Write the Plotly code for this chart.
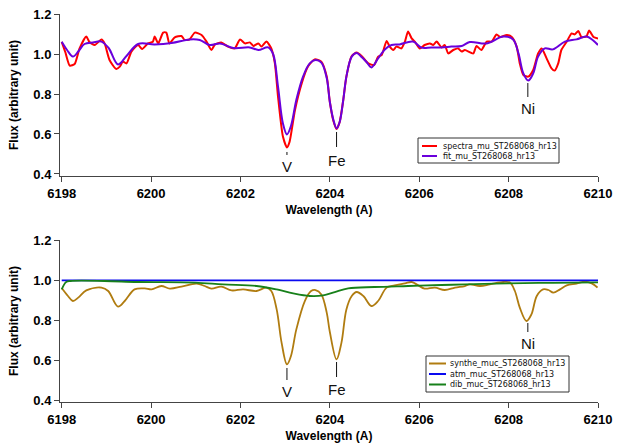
import plotly.graph_objects as go

# ---------------- data ----------------
fit_wl = [6198.00, 6198.12, 6198.25, 6198.38, 6198.51, 6198.70, 6198.89, 6199.05, 6199.26, 6199.45,
          6199.71, 6200.08, 6200.46, 6200.87, 6201.09, 6201.31, 6201.54, 6201.84, 6202.21, 6202.40,
          6202.62, 6202.73, 6202.84, 6202.95, 6203.04, 6203.13, 6203.25, 6203.40, 6203.55, 6203.68,
          6203.81, 6203.93, 6204.00, 6204.08, 6204.15, 6204.22, 6204.30, 6204.37, 6204.49, 6204.60,
          6204.71, 6204.82, 6204.93, 6205.08, 6205.23, 6205.38, 6205.56, 6205.86, 6206.05, 6206.27,
          6206.50, 6206.72, 6206.95, 6207.13, 6207.51, 6207.88, 6208.10, 6208.22, 6208.33, 6208.44,
          6208.55, 6208.66, 6208.81, 6208.99, 6209.26, 6209.52, 6209.74, 6209.88, 6210.00]
fit_flux = [1.061, 1.020, 0.987, 1.015, 1.050, 1.058, 1.062, 1.030, 0.948, 0.990,
            1.050, 1.048, 1.055, 1.073, 1.070, 1.045, 1.053, 1.030, 1.033, 1.020,
            1.033, 1.000, 0.837, 0.653, 0.598, 0.640, 0.770, 0.887, 0.953, 0.970,
            0.957, 0.880, 0.760, 0.670, 0.628, 0.660, 0.770, 0.887, 0.987, 1.005,
            0.985, 0.960, 0.933, 0.978, 1.023, 1.045, 1.048, 1.062, 1.032, 1.033,
            1.033, 1.037, 1.040, 1.060, 1.053, 1.087, 1.073, 1.003, 0.903, 0.867,
            0.903, 0.987, 1.028, 1.023, 1.062, 1.073, 1.087, 1.070, 1.045]

spec_wl = [6198.00, 6198.08, 6198.18, 6198.29, 6198.40, 6198.55, 6198.62, 6198.74, 6198.89, 6198.96,
           6199.07, 6199.22, 6199.30, 6199.37, 6199.45, 6199.56, 6199.71, 6199.80, 6199.93, 6200.04,
           6200.08, 6200.16, 6200.27, 6200.34, 6200.41, 6200.53, 6200.68, 6200.75, 6200.86, 6200.98,
           6201.13, 6201.24, 6201.35, 6201.43, 6201.57, 6201.72, 6201.87, 6201.99, 6202.10, 6202.21,
           6202.29, 6202.40, 6202.47, 6202.58, 6202.69, 6202.77, 6202.84, 6202.95, 6203.04, 6203.10,
           6203.22, 6203.37, 6203.51, 6203.66, 6203.81, 6203.93, 6204.00, 6204.08, 6204.15, 6204.22,
           6204.30, 6204.37, 6204.49, 6204.60, 6204.71, 6204.86, 6204.99, 6205.08, 6205.16, 6205.27,
           6205.34, 6205.42, 6205.49, 6205.60, 6205.68, 6205.75, 6205.83, 6205.90, 6206.01, 6206.12,
           6206.24, 6206.31, 6206.39, 6206.50, 6206.57, 6206.65, 6206.76, 6206.87, 6206.95, 6207.02,
           6207.21, 6207.28, 6207.39, 6207.51, 6207.62, 6207.73, 6207.81, 6207.96, 6208.07, 6208.18,
           6208.25, 6208.33, 6208.44, 6208.55, 6208.66, 6208.74, 6208.85, 6208.96, 6209.03, 6209.11,
           6209.18, 6209.30, 6209.41, 6209.48, 6209.56, 6209.63, 6209.74, 6209.80, 6209.90, 6210.00]
spec_flux = [1.061, 1.010, 0.942, 0.950, 1.028, 1.087, 1.060, 1.045, 1.073, 1.053,
             0.970, 0.925, 0.937, 0.962, 0.953, 1.012, 1.045, 1.025, 1.053, 1.061,
             1.087, 1.053, 1.107, 1.107, 1.053, 1.083, 1.090, 1.070, 1.073, 1.107,
             1.095, 1.062, 1.020, 1.048, 1.057, 1.037, 1.028, 1.073, 1.053, 1.058,
             1.040, 1.053, 1.037, 1.062, 1.028, 0.953, 0.787, 0.587, 0.533, 0.562,
             0.720, 0.853, 0.937, 0.973, 0.962, 0.887, 0.760, 0.665, 0.625, 0.660,
             0.770, 0.887, 0.990, 1.007, 0.990, 0.953, 0.945, 0.987, 0.995, 1.065,
             1.037, 1.020, 1.037, 1.028, 1.062, 1.112, 1.078, 1.062, 1.028, 1.045,
             1.053, 1.045, 1.062, 1.033, 1.045, 1.003, 1.020, 1.028, 1.012, 1.020,
             1.003, 1.040, 1.020, 1.062, 1.062, 1.098, 1.085, 1.095, 1.085, 1.037,
             0.953, 0.895, 0.887, 0.920, 1.003, 1.028, 0.978, 0.928, 0.917, 0.953,
             1.020, 1.062, 1.103, 1.098, 1.115, 1.085, 1.088, 1.117, 1.085, 1.078]

synthe_wl = [6198.00, 6198.14, 6198.25, 6198.37, 6198.55, 6198.89, 6199.04, 6199.26, 6199.41, 6199.63,
             6199.86, 6200.01, 6200.23, 6200.42, 6200.68, 6201.02, 6201.20, 6201.35, 6201.57, 6201.80,
             6202.06, 6202.36, 6202.58, 6202.69, 6202.81, 6202.92, 6203.04, 6203.13, 6203.25, 6203.44,
             6203.58, 6203.68, 6203.81, 6203.93, 6204.00, 6204.15, 6204.26, 6204.37, 6204.49, 6204.60,
             6204.75, 6204.93, 6205.08, 6205.27, 6205.45, 6205.68, 6205.83, 6205.98, 6206.12, 6206.35,
             6206.57, 6206.80, 6207.02, 6207.13, 6207.36, 6207.58, 6207.88, 6208.03, 6208.14, 6208.25,
             6208.40, 6208.51, 6208.63, 6208.77, 6208.89, 6209.00, 6209.15, 6209.30, 6209.52, 6209.71,
             6209.86, 6209.99]
synthe_flux = [0.960, 0.920, 0.895, 0.912, 0.948, 0.962, 0.945, 0.867, 0.895, 0.953,
               0.958, 0.953, 0.970, 0.957, 0.967, 0.982, 0.970, 0.957, 0.967, 0.948,
               0.953, 0.945, 0.962, 0.945, 0.853, 0.687, 0.578, 0.620, 0.753, 0.895,
               0.945, 0.950, 0.928, 0.837, 0.740, 0.603, 0.687, 0.853, 0.920, 0.940,
               0.920, 0.870, 0.895, 0.962, 0.973, 0.983, 0.990, 0.973, 0.957, 0.962,
               0.950, 0.962, 0.970, 0.978, 0.970, 0.978, 0.990, 0.987, 0.945, 0.862,
               0.795, 0.828, 0.920, 0.953, 0.950, 0.937, 0.953, 0.973, 0.982, 0.992,
               0.983, 0.962]

atm_wl = [6198.0, 6201.0, 6204.0, 6207.0, 6210.0]
atm_flux = [0.998, 0.998, 0.998, 0.998, 0.998]

dib_wl = [6198.00, 6198.10, 6198.20, 6198.96, 6199.70, 6200.98, 6201.61, 6202.36, 6202.81, 6203.18,
          6203.55, 6203.85, 6204.11, 6204.41, 6205.00, 6205.75, 6206.50, 6207.02, 6208.00, 6209.00,
          6210.00]
dib_flux = [0.953, 0.990, 0.995, 0.995, 0.990, 0.987, 0.978, 0.970, 0.953, 0.933,
            0.920, 0.923, 0.940, 0.958, 0.965, 0.970, 0.975, 0.978, 0.983, 0.986,
            0.988]

line_labels = ["V", "Fe", "Ni"]
line_wl = [6203.04, 6204.15, 6208.43]

names_top = ["spectra_mu_ST268068_hr13", "fit_mu_ST268068_hr13"]
names_bot = ["synthe_muc_ST268068_hr13", "atm_muc_ST268068_hr13", "dib_muc_ST268068_hr13"]

# ---------------- figure ----------------
C_RED = "#FF0000"
C_PUR = "#6A00DC"
C_BRN = "#B07C10"
C_BLU = "#0A0AF0"
C_GRN = "#17801A"

fig = go.Figure()
fig.add_trace(go.Scatter(x=spec_wl, y=spec_flux, name=names_top[0], mode="lines",
                         line=dict(color=C_RED, width=2, shape="spline", smoothing=0.6),
                         xaxis="x", yaxis="y", showlegend=False))
fig.add_trace(go.Scatter(x=fit_wl, y=fit_flux, name=names_top[1], mode="lines",
                         line=dict(color=C_PUR, width=2, shape="spline", smoothing=1.0),
                         xaxis="x", yaxis="y", showlegend=False))
fig.add_trace(go.Scatter(x=synthe_wl, y=synthe_flux, name=names_bot[0], mode="lines",
                         line=dict(color=C_BRN, width=1.8, shape="spline", smoothing=1.0),
                         xaxis="x2", yaxis="y2", showlegend=False))
fig.add_trace(go.Scatter(x=atm_wl, y=atm_flux, name=names_bot[1], mode="lines",
                         line=dict(color=C_BLU, width=1.8),
                         xaxis="x2", yaxis="y2", showlegend=False))
fig.add_trace(go.Scatter(x=dib_wl, y=dib_flux, name=names_bot[2], mode="lines",
                         line=dict(color=C_GRN, width=1.8, shape="spline", smoothing=1.0),
                         xaxis="x2", yaxis="y2", showlegend=False))

TICKFONT = dict(family="Liberation Sans, Arial, sans-serif", size=13, color="black", weight="bold")
TITLEFONT = dict(family="Liberation Sans, Arial, sans-serif", size=12, color="black", weight="bold")
AXC = "#444444"

def xax(domain_anchor):
    return dict(range=[6197.962, 6210.0], tick0=6198, dtick=2, showline=True, linecolor=AXC,
                linewidth=1, ticks="outside", ticklen=5, tickcolor=AXC, showgrid=False,
                zeroline=False, tickfont=TICKFONT, anchor=domain_anchor, automargin=False,
                title=dict(text="Wavelength (A)", font=TITLEFONT, standoff=6))

def yax(domain, anchor):
    return dict(domain=domain, range=[0.39, 1.2], tick0=0.4, dtick=0.2, tickformat=".1f",
                showline=True, linecolor=AXC, linewidth=1, ticks="outside", ticklen=5,
                tickcolor=AXC, showgrid=False, zeroline=False, tickfont=TICKFONT, anchor=anchor,
                automargin=False,
                title=dict(text="Flux (arbitrary unit)", font=TITLEFONT, standoff=12))

H_TOP, H_BOT = 0.5825, 0.4175

fig.update_layout(
    width=617, height=447,
    margin=dict(l=60, r=19, t=14, b=45, autoexpand=False),
    paper_bgcolor="white", plot_bgcolor="white",
    xaxis=xax("y"), yaxis=yax([H_TOP, 1.0], "x"),
    xaxis2=xax("y2"), yaxis2=yax([0.0, H_BOT], "x2"),
    showlegend=False,
)

# ---------------- line identifications ----------------
LBLFONT = dict(family="Liberation Sans, Arial, sans-serif", size=15, color="#111111")
top_tick = [(0.51, 0.495, 0.487), (0.61, 0.535, 0.517), (0.855, 0.785, 0.777)]
bot_tick = [(0.56, 0.50, 0.492), (0.59, 0.515, 0.502), (0.785, 0.74, 0.732)]
for lab, wl, t, b in zip(line_labels, line_wl, top_tick, bot_tick):
    for (y0, y1, yt), xr, yr in [(t, "x", "y"), (b, "x2", "y2")]:
        fig.add_shape(type="line", xref=xr, yref=yr, x0=wl, x1=wl, y0=y0, y1=y1,
                      line=dict(color="#111111", width=1))
        fig.add_annotation(x=wl, y=yt, xref=xr, yref=yr, text=lab, showarrow=False,
                           xanchor="center", yanchor="top", font=LBLFONT, borderpad=0)

# ---------------- legends (drawn boxes) ----------------
def px2x(px):
    return (px - 60) / 538.0

def py2y(py):
    return (402 - py) / 388.0

LEGFONT = dict(family="DejaVu Sans, sans-serif", size=8, color="#111111")

def draw_legend(box, rows, names, colors, line_x, text_x):
    x0, y0, x1, y1 = box
    fig.add_shape(type="rect", xref="paper", yref="paper", x0=px2x(x0), x1=px2x(x1),
                  y0=py2y(y1), y1=py2y(y0), line=dict(color="#333333", width=1),
                  fillcolor="white", layer="above")
    for r, n, c in zip(rows, names, colors):
        fig.add_shape(type="line", xref="paper", yref="paper", x0=px2x(line_x[0]),
                      x1=px2x(line_x[1]), y0=py2y(r), y1=py2y(r),
                      line=dict(color=c, width=2), layer="above")
        fig.add_annotation(xref="paper", yref="paper", x=px2x(text_x), y=py2y(r), text=n,
                           showarrow=False, xanchor="left", yanchor="middle", font=LEGFONT,
                           borderpad=0)

draw_legend((418, 138, 559, 163), [146, 156], names_top, [C_RED, C_PUR], (422, 437), 442)
draw_legend((426, 356, 569, 392), [363.5, 374, 384.5], names_bot, [C_BRN, C_BLU, C_GRN],
            (429, 446), 449)

fig.write_html("out.html", config={"displayModeBar": False},
               post_script="document.body.style.margin='0';document.body.style.overflow='hidden';")
